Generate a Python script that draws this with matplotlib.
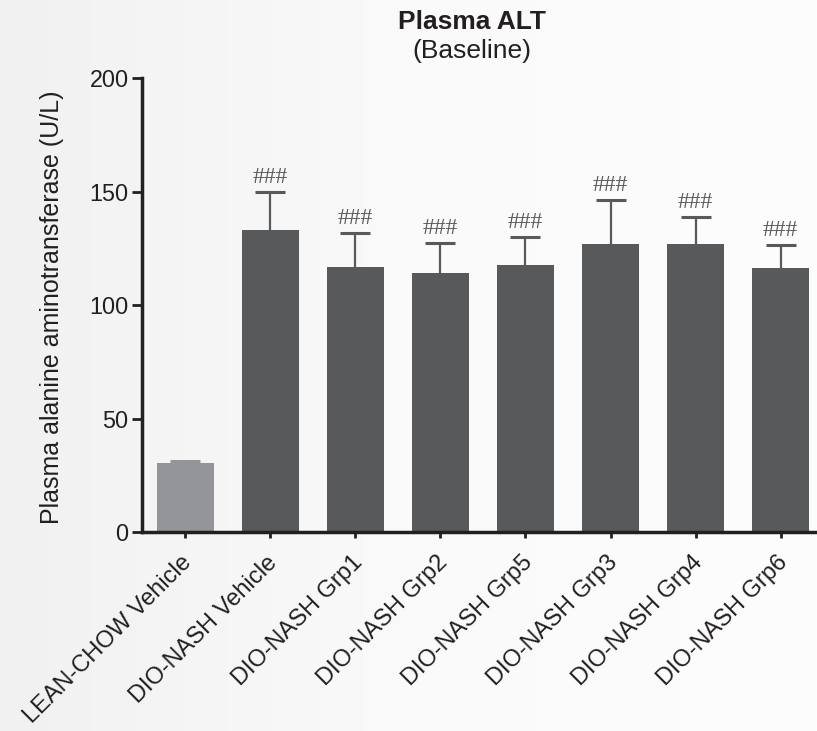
import numpy as np
import matplotlib
matplotlib.use("Agg")
import matplotlib.pyplot as plt
import matplotlib.transforms as mtransforms
from matplotlib.colors import LinearSegmentedColormap

# ---------------------------------------------------------------------------
# Data
# ---------------------------------------------------------------------------
groups = ["LEAN-CHOW Vehicle", "DIO-NASH Vehicle", "DIO-NASH Grp1",
          "DIO-NASH Grp2", "DIO-NASH Grp5", "DIO-NASH Grp3",
          "DIO-NASH Grp4", "DIO-NASH Grp6"]
alt_mean = [30.7, 133.1, 116.8, 114.1, 117.7, 127.0, 127.0, 116.3]
alt_sem = [0.7, 16.5, 15.0, 13.3, 12.1, 19.3, 12.0, 10.0]
sig_marks = ["", "###", "###", "###", "###", "###", "###", "###"]

LEAN_COL = "#939598"
NASH_COL = "#58595b"
AXIS_COL = "#231f20"

plt.rcParams["font.family"] = ["Liberation Sans", "DejaVu Sans"]

fig = plt.figure(figsize=(8.17, 7.31), dpi=100)

# faint grey-to-white background wash
bg = fig.add_axes([0, 0, 1, 1], zorder=-10)
cmap = LinearSegmentedColormap.from_list("bg", ["#f1f1f1", "#fbfafa", "#fefdfd"])
bg.imshow(np.linspace(0, 1, 256)[None, :], aspect="auto", cmap=cmap,
          extent=[0, 1, 0, 1])
bg.set_axis_off()

ax = fig.add_axes([0.1744, 0.2718, 0.8333, 0.6215])
ax.patch.set_alpha(0)

x = np.arange(len(groups))
colours = [LEAN_COL] + [NASH_COL] * (len(groups) - 1)
ax.bar(x, alt_mean, width=0.67, color=colours, zorder=2)

# upper-only SEM bars
for xi, m, e, c in zip(x, alt_mean, alt_sem, colours):
    eb = ax.errorbar(xi, m, yerr=[[0], [e]], fmt="none", ecolor=c,
                     elinewidth=1.6, capsize=10.8, capthick=2.2, zorder=1)
    eb.lines[1][0].set_visible(False)

for xi, m, e, s in zip(x, alt_mean, alt_sem, sig_marks):
    if s:
        ax.annotate(s, (xi, m + e), xytext=(0, 6.5), textcoords="offset points",
                    ha="center", va="baseline", color=NASH_COL,
                    fontsize=17, family="Liberation Serif")

ax.set_xlim(-0.5, 7.5)
ax.set_ylim(0, 200)
ax.set_yticks([0, 50, 100, 150, 200])
ax.set_xticks(x)
ax.set_xticklabels(groups, rotation=45, ha="right", va="top",
                   rotation_mode="anchor", fontsize=17, color=AXIS_COL)
ax.tick_params(axis="y", direction="out", length=7, width=2, pad=3,
               labelsize=16.8, colors=AXIS_COL)
ax.tick_params(axis="x", direction="out", length=4, width=2, pad=10,
               colors=AXIS_COL)
shift = mtransforms.ScaledTranslation(-3 / 72, 0, fig.dpi_scale_trans)
for lab in ax.get_xticklabels():
    lab.set_transform(lab.get_transform() + shift)

for side in ("top", "right"):
    ax.spines[side].set_visible(False)
for side in ("left", "bottom"):
    ax.spines[side].set_linewidth(2.5)
    ax.spines[side].set_color(AXIS_COL)

fig.text(52 / 817, 1 - 307 / 731, "Plasma alanine aminotransferase (U/L)",
         rotation=90, ha="center", va="center", fontsize=18, color=AXIS_COL)

fig.text(472 / 817, 1 - 29 / 731, "Plasma ALT", ha="center", va="baseline",
         fontsize=19, fontweight="bold", color=AXIS_COL)
fig.text(472 / 817, 1 - 58 / 731, "(Baseline)", ha="center", va="baseline",
         fontsize=19, color=AXIS_COL)

fig.savefig("out.png", dpi=100)
